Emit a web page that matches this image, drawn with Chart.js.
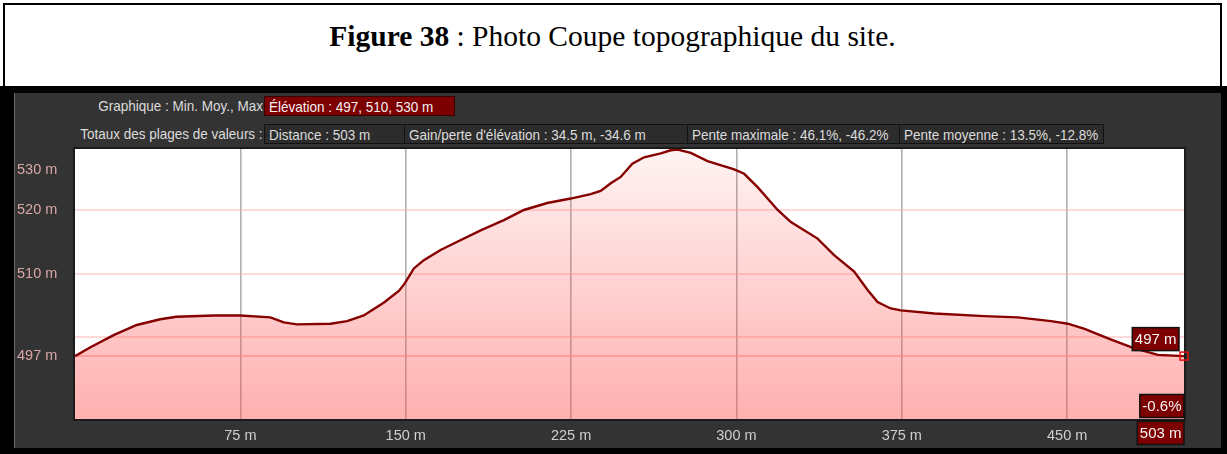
<!DOCTYPE html>
<html>
<head>
<meta charset="utf-8">
<script src="https://cdn.jsdelivr.net/npm/chart.js@4.4.1/dist/chart.umd.min.js"></script>
<style>
  html,body{margin:0;padding:0;background:#fff;}
  body{width:1227px;height:454px;overflow:hidden;position:relative;font-family:"Liberation Sans",Arial,sans-serif;}
  #cap{position:absolute;left:3px;top:3px;width:1215px;height:84px;border:2px solid #000;border-bottom:none;background:#fff;}
  #capText{position:absolute;left:0;right:0;top:15px;text-align:center;font-family:"Liberation Serif","Times New Roman",serif;font-size:29.5px;color:#000;white-space:nowrap;}
  #frame{position:absolute;left:0;top:86px;width:1227px;height:368px;background:#000;}
  #panel{position:absolute;left:14px;top:93px;width:1207px;height:355px;background:#333;box-shadow:inset 1px 0 0 #6a6a6a;}
  #chartBox{position:absolute;left:14px;top:93px;width:1207px;height:355px;}
  .lbl{position:absolute;color:#dcdcdc;font-size:15px;white-space:nowrap;line-height:19px;}
  .lbl span{display:inline-block;transform:scaleX(0.9);transform-origin:right center;}
  .box{position:absolute;height:20px;line-height:19px;font-size:15px;color:#dcdcdc;background:#2c2c2c;border:1px solid #111;box-sizing:border-box;padding-left:4px;white-space:nowrap;overflow:hidden;}
  .box span{display:inline-block;transform:scaleX(0.9);transform-origin:left center;}
  .red{background:#7d0000;border-color:#3a0000;color:#f2f2f2;}
</style>
</head>
<body>
<div id="cap"><div id="capText"><b>Figure 38</b> : Photo Coupe topographique du site.</div></div>
<div id="frame"></div>
<div id="panel"></div>
<div id="info"></div>
<div id="chartBox"><canvas id="c" width="1207" height="355"></canvas></div>
<script>
// ---- data ----
const distances = [0, 7, 17.5, 28, 38.7, 46, 63, 75, 88.6, 94.7, 100.7, 115.9, 123.4, 131, 135, 140, 147, 149.5,
  153.7, 158.2, 165.8, 173.4, 184, 194.5, 203.6, 214.2, 224.8, 233.9, 238.4, 243, 247.5, 252.8, 258.1, 265.7,
  270.2, 273.3, 279.3, 286.9, 299, 303.5, 309.6, 318.7, 324.7, 336.8, 344.3, 353.4, 359.5, 364, 370, 374.6,
  389.8, 412.5, 427.6, 442.7, 450.3, 457.9, 470, 480.5, 491.2, 503];
const elevations = [497.0, 498.4, 500.3, 501.9, 502.8, 503.2, 503.4, 503.4, 503.1, 502.3, 502.0, 502.1, 502.5, 503.4, 504.3, 505.4, 507.3, 508.4,
  510.8, 512.1, 513.7, 515.0, 516.8, 518.4, 520.0, 521.1, 521.8, 522.5, 523.0, 524.2, 525.2, 527.3, 528.3, 528.9,
  529.4, 529.5, 529.0, 527.7, 526.4, 525.7, 523.6, 520.0, 518.1, 515.5, 512.9, 510.3, 507.4, 505.5, 504.5, 504.2,
  503.7, 503.3, 503.1, 502.5, 502.1, 501.3, 499.6, 498.2, 497.2, 497.0];
const xTickValues = [75, 150, 225, 300, 375, 450];
const yGridValues = [497, 500, 510, 520];
const yLabelValues = [497, 510, 520, 530];
const xRange = [0, 503];
const yRange = [487.1, 529.6];
const captionHeader = ["Graphique : Min. Moy., Max", "Totaux des plages de valeurs :"];
const elevationText = "Élévation : 497, 510, 530 m";
const totalsTexts = ["Distance : 503 m", "Gain/perte d'élévation : 34.5 m, -34.6 m", "Pente maximale : 46.1%, -46.2%", "Pente moyenne : 13.5%, -12.8%"];
const endSlopeText = "-0.6%";
const totalDistanceText = "503 m";

// ---- info bars ----
const info = document.getElementById('info');
function add(cls, text, css){
  const d=document.createElement('div'); d.className=cls;
  const s=document.createElement('span'); s.textContent=text; d.appendChild(s);
  Object.assign(d.style, css); info.appendChild(d);
}
add('lbl', captionHeader[0], {right:(1227-263)+'px', top:'96px'});
add('lbl', captionHeader[1], {right:(1227-263)+'px', top:'124px'});
add('box red', elevationText, {left:'264px', top:'96px', width:'191px'});
const boxEdges = [264, 404, 687, 899, 1103];
totalsTexts.forEach((t,i)=> add('box', t, {left:boxEdges[i]+'px', top:'124px', width:(boxEdges[i+1]-boxEdges[i]+1)+'px'}));

// ---- chart ----
const FONT = {family:"'Liberation Sans', Arial, sans-serif", size:14};
const decor = {
  id:'decor',
  beforeDraw(chart){
    const {ctx, chartArea:a} = chart;
    ctx.save(); ctx.fillStyle='#fff'; ctx.fillRect(a.left, a.top, a.right-a.left, a.bottom-a.top); ctx.restore();
  },
  afterDraw(chart){
    const {ctx, chartArea:a, scales:{x, y}} = chart;
    ctx.save();
    // frame
    ctx.strokeStyle='#1b1b1b'; ctx.lineWidth=2;
    ctx.strokeRect(a.left-1, a.top-1, a.right-a.left+2, a.bottom-a.top+2);
    // y labels
    ctx.font = "14.5px 'Liberation Sans', Arial, sans-serif";
    ctx.fillStyle='#d9a7a7'; ctx.textBaseline='middle'; ctx.textAlign='left';
    yLabelValues.forEach(v=>{
      const py = Math.max(y.getPixelForValue(v), a.top+21);
      ctx.fillText(v+' m', 3, py);
    });
    // end marker
    const n = distances.length-1;
    const ex = x.getPixelForValue(distances[n]), ey = y.getPixelForValue(elevations[n]);
    ctx.strokeStyle='#e01010'; ctx.lineWidth=1.5;
    ctx.strokeRect(ex-4, ey-4, 8, 8);
    ctx.font = "15px 'Liberation Sans', Arial, sans-serif";
    function tag(text, right, cy){
      const w = ctx.measureText(text).width + 5, h = 23;
      ctx.fillStyle='#7d0000'; ctx.fillRect(right-w, cy-h/2, w, h);
      ctx.strokeStyle='#111'; ctx.lineWidth=1.5; ctx.strokeRect(right-w, cy-h/2, w, h);
      ctx.fillStyle='#f4f4f4'; ctx.textAlign='center'; ctx.fillText(text, right-w/2, cy+1);
    }
    tag(Math.round(elevations[n])+' m', ex-5, ey-17);
    tag(endSlopeText, ex, a.bottom-13);
    tag(totalDistanceText, ex, a.bottom+14);
    ctx.restore();
  }
};

new Chart(document.getElementById('c'), {
  type:'line',
  data:{
    labels: distances,
    datasets:[{
      data: distances.map((d,i)=>({x:d, y:elevations[i]})),
      borderColor:'#860000', borderWidth:2.4, pointRadius:0, tension:0,
      fill:'start',
      backgroundColor(ctx){
        const a = ctx.chart.chartArea; if(!a) return 'rgba(255,80,80,0.3)';
        const g = ctx.chart.ctx.createLinearGradient(0, a.top, 0, a.bottom);
        g.addColorStop(0, 'rgba(255,80,80,0.07)');
        g.addColorStop(1, 'rgba(255,80,80,0.45)');
        return g;
      }
    }]
  },
  options:{
    responsive:false, animation:false, devicePixelRatio:1,
    layout:{padding:{top:56, right:37, left:0, bottom:0}},
    plugins:{legend:{display:false}, tooltip:{enabled:false}},
    scales:{
      x:{
        type:'linear', min:xRange[0], max:xRange[1],
        afterBuildTicks(s){ s.ticks = xTickValues.map(v=>({value:v})); },
        afterFit(s){ s.height = 29; },
        grid:{color:'rgba(150,150,150,0.75)', lineWidth:1.6, drawTicks:false},
        border:{display:false},
        ticks:{color:'#cfcfcf', font:{family:FONT.family, size:14.5}, padding:8, maxRotation:0, callback:v=>v+' m'}
      },
      y:{
        type:'linear', min:yRange[0], max:yRange[1],
        afterBuildTicks(s){ s.ticks = yGridValues.map(v=>({value:v})); },
        afterFit(s){ s.width = 61; },
        grid:{color(c){ return c.tick && c.tick.value===497 ? 'rgba(255,150,150,0.55)' : 'rgba(255,170,170,0.45)'; }, lineWidth:2, drawTicks:false},
        border:{display:false},
        ticks:{display:false}
      }
    }
  },
  plugins:[decor]
});
</script>
</body>
</html>
